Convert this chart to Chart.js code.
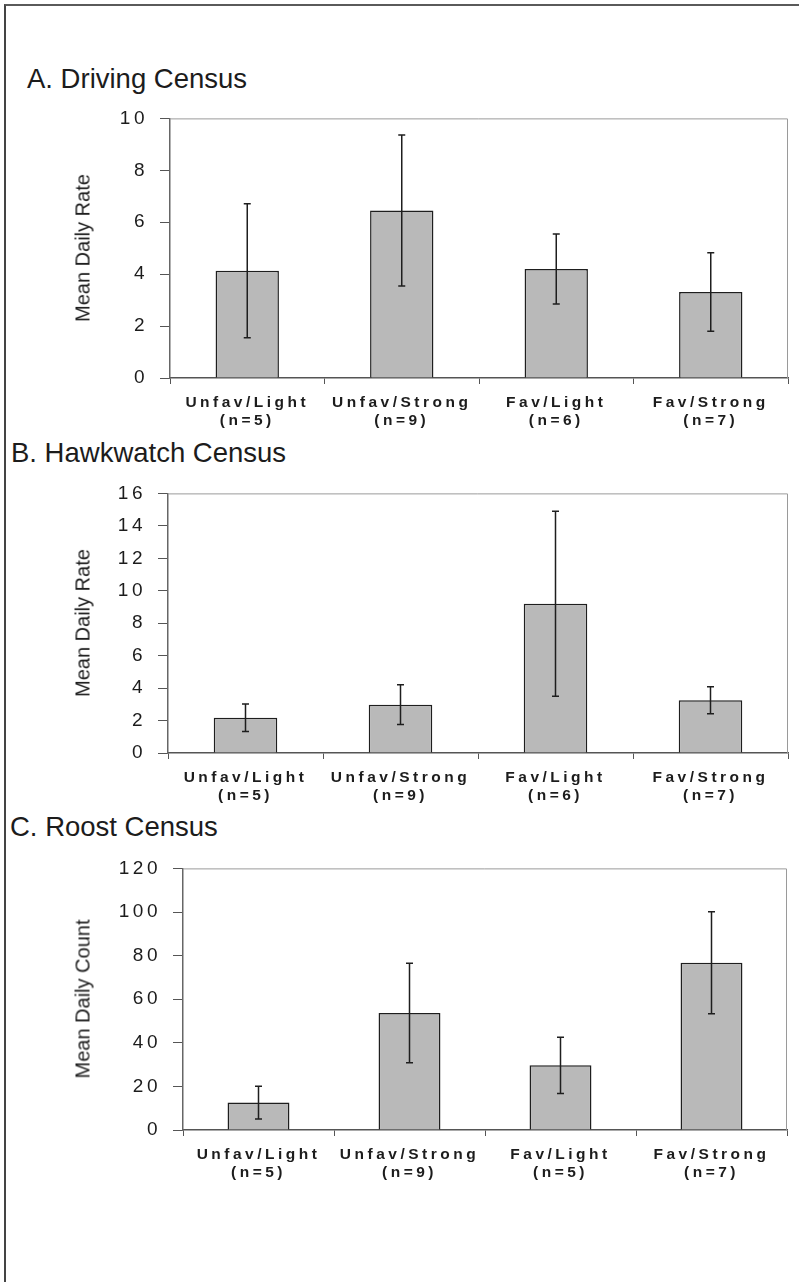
<!DOCTYPE html>
<html>
<head>
<meta charset="utf-8">
<script src="https://cdn.jsdelivr.net/npm/chart.js@4.4.1/dist/chart.umd.min.js"></script>
<style>
  body { margin:0; background:#fff; width:799px; height:1282px; position:relative; overflow:hidden; font-family:"Liberation Sans", Arial, sans-serif; color:#222; }
  .moldura { position:absolute; left:4px; top:4px; right:-10px; bottom:-10px; border-top:2px solid #5a5a5a; border-left:2px solid #444; }
  .titulo { position:absolute; font-size:27.5px; line-height:1; white-space:nowrap; color:#1c1c1c; }
  .eixo-y { position:absolute; font-size:20px; white-space:nowrap; transform:translate(-50%, -50%) rotate(-90deg); color:#1c1c1c; }
  canvas { position:absolute; left:0; }
</style>
</head>
<body>
<div class="moldura"></div>
<div class="titulo" style="left:27px; top:65px;">A. Driving Census</div>
<div class="titulo" style="left:11px; top:439px;">B. Hawkwatch Census</div>
<div class="titulo" style="left:10px; top:813px;">C. Roost Census</div>
<script>
// Dados
const categorias = ['Unfav/Light', 'Unfav/Strong', 'Fav/Light', 'Fav/Strong'];
const amostrasA = ['(n=5)', '(n=9)', '(n=6)', '(n=7)'];
const amostrasB = ['(n=5)', '(n=9)', '(n=6)', '(n=7)'];
const amostrasC = ['(n=5)', '(n=9)', '(n=5)', '(n=7)'];

const mediasA = [4.13, 6.45, 4.2, 3.31];
const errosA = [2.58, 2.91, 1.35, 1.51];
const mediasB = [2.17, 2.98, 9.2, 3.25];
const errosB = [0.85, 1.22, 5.7, 0.83];
const mediasC = [12.6, 53.7, 29.7, 76.7];
const errosC = [7.5, 22.8, 12.9, 23.4];

const ticksA = { max: 10, passo: 2 };
const ticksB = { max: 16, passo: 2 };
const ticksC = { max: 120, passo: 20 };

Chart.defaults.font.family = '"Liberation Sans", Arial, sans-serif';

// Espaçamento entre letras, como no original
const espacamento = {
  id: 'espacamento',
  beforeDraw(chart) { chart.ctx.letterSpacing = '3.5px'; }
};

// Linhas de cima e da direita da área do gráfico
const moldura = {
  id: 'moldura',
  beforeDatasetsDraw(chart) {
    const { ctx, chartArea: a } = chart;
    ctx.save();
    ctx.strokeStyle = '#9a9a9a';
    ctx.lineWidth = 1;
    ctx.beginPath();
    ctx.moveTo(a.left, a.top + 0.5);
    ctx.lineTo(a.right - 0.5, a.top + 0.5);
    ctx.lineTo(a.right - 0.5, a.bottom);
    ctx.stroke();
    ctx.restore();
  }
};

// Barras de erro
const barrasErro = {
  id: 'barrasErro',
  afterDatasetsDraw(chart) {
    const { ctx } = chart;
    const y = chart.scales.y;
    const ds = chart.data.datasets[0];
    const meta = chart.getDatasetMeta(0);
    ctx.save();
    ctx.strokeStyle = '#1e1e1e';
    ctx.lineWidth = 1.5;
    meta.data.forEach((barra, i) => {
      const topo = y.getPixelForValue(ds.data[i] + ds.erros[i]);
      const base = y.getPixelForValue(ds.data[i] - ds.erros[i]);
      ctx.beginPath();
      ctx.moveTo(barra.x, topo);
      ctx.lineTo(barra.x, base);
      ctx.moveTo(barra.x - 3.5, topo);
      ctx.lineTo(barra.x + 3.5, topo);
      ctx.moveTo(barra.x - 3.5, base);
      ctx.lineTo(barra.x + 3.5, base);
      ctx.stroke();
    });
    ctx.restore();
  }
};

function criarGrafico(cfg) {
  const canvas = document.createElement('canvas');
  canvas.width = 799;
  canvas.height = cfg.altura;
  canvas.style.top = cfg.topo + 'px';
  document.body.appendChild(canvas);

  const chart = new Chart(canvas, {
    type: 'bar',
    data: {
      labels: categorias.map((c, i) => [c, cfg.amostras[i]]),
      datasets: [{
        data: cfg.medias,
        erros: cfg.erros,
        backgroundColor: '#b9b9b9',
        borderColor: '#1e1e1e',
        borderWidth: 1.5,
        barPercentage: 0.41,
        categoryPercentage: 1
      }]
    },
    options: {
      responsive: false,
      animation: false,
      devicePixelRatio: 1,
      layout: { padding: { top: cfg.padTopo, right: cfg.padDireita, left: 0, bottom: 0 } },
      plugins: { legend: { display: false }, tooltip: { enabled: false } },
      scales: {
        x: {
          grid: { drawOnChartArea: false, tickLength: 6, color: '#555', offset: true },
          border: { color: '#555', width: 1.5 },
          ticks: { color: '#1c1c1c', padding: 10, autoSkip: false, maxRotation: 0, font: { size: 15.5, weight: 'bold', lineHeight: 1.16 } },
          afterFit: s => { s.height = cfg.alturaX; }
        },
        y: {
          min: 0,
          max: cfg.ticks.max,
          ticks: { stepSize: cfg.ticks.passo, color: '#1c1c1c', padding: 12, font: { size: 19 } },
          grid: { drawOnChartArea: false, tickLength: 10, color: '#555' },
          border: { color: '#666', width: 1.5 },
          afterFit: s => { s.width = cfg.larguraY; }
        }
      }
    },
    plugins: [espacamento, moldura, barrasErro]
  });

  // título do eixo Y centrado na área do gráfico
  const a = chart.chartArea;
  const tituloY = document.createElement('div');
  tituloY.className = 'eixo-y';
  tituloY.textContent = cfg.tituloY;
  tituloY.style.left = '83px';
  tituloY.style.top = (cfg.topo + (a.top + a.bottom) / 2) + 'px';
  document.body.appendChild(tituloY);
  return chart;
}

criarGrafico({ topo: 95, altura: 340, padTopo: 17, padDireita: 11, larguraY: 170, alturaX: 57,
  amostras: amostrasA, medias: mediasA, erros: errosA, ticks: ticksA, tituloY: 'Mean Daily Rate' });
criarGrafico({ topo: 470, altura: 340, padTopo: 21, padDireita: 11, larguraY: 168, alturaX: 57,
  amostras: amostrasB, medias: mediasB, erros: errosB, ticks: ticksB, tituloY: 'Mean Daily Rate' });
criarGrafico({ topo: 845, altura: 340, padTopo: 20, padDireita: 12, larguraY: 183, alturaX: 55,
  amostras: amostrasC, medias: mediasC, erros: errosC, ticks: ticksC, tituloY: 'Mean Daily Count' });
</script>
</body>
</html>
